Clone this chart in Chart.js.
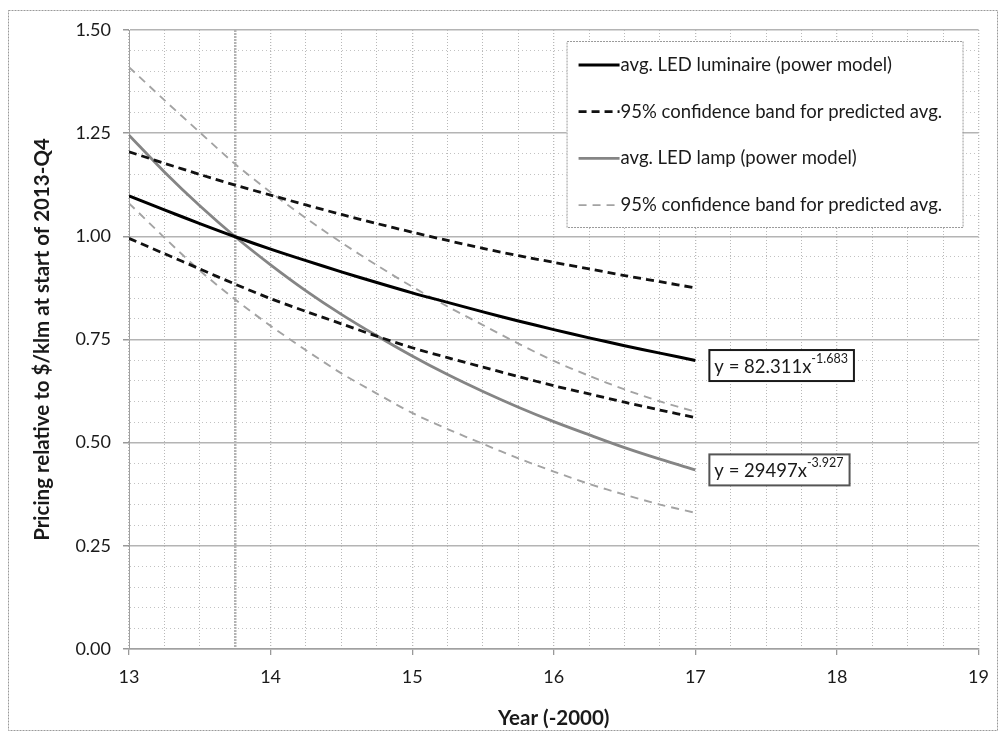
<!DOCTYPE html>
<html lang="en">
<head>
    <meta charset="UTF-8">
    <title>LED pricing relative to 2013-Q4</title>
    <script src="https://cdn.jsdelivr.net/npm/chart.js"></script>
    <style>
        body {
            margin: 0;
            background: #fff;
        }
        canvas {
            display: block;
        }
    </style>
</head>
<body>
    <canvas id="priceChart" width="1000" height="733"></canvas>
    <script>
        // values, every quarter year
        const years = [13, 13.25, 13.5, 13.75, 14, 14.25, 14.5, 14.75, 15, 15.25, 15.5, 15.75, 16, 16.25, 16.5, 16.75, 17];
        const luminaireAvg   = [1.098, 1.064, 1.031, 0.999, 0.969, 0.941, 0.914, 0.888, 0.863, 0.840, 0.817, 0.795, 0.774, 0.754, 0.735, 0.717, 0.699];
        const luminaireUpper = [1.205, 1.177, 1.150, 1.124, 1.100, 1.076, 1.053, 1.031, 1.010, 0.990, 0.971, 0.953, 0.937, 0.921, 0.905, 0.890, 0.875];
        const luminaireLower = [0.995, 0.958, 0.921, 0.884, 0.849, 0.818, 0.788, 0.758, 0.730, 0.706, 0.683, 0.660, 0.638, 0.618, 0.598, 0.579, 0.561];
        const lampAvg   = [1.245, 1.156, 1.074, 0.999, 0.931, 0.868, 0.811, 0.759, 0.710, 0.665, 0.624, 0.586, 0.551, 0.519, 0.488, 0.460, 0.434];
        const lampUpper = [1.410, 1.330, 1.252, 1.175, 1.107, 1.044, 0.985, 0.930, 0.878, 0.830, 0.785, 0.740, 0.698, 0.662, 0.629, 0.600, 0.575];
        const lampLower = [1.080, 0.997, 0.917, 0.847, 0.783, 0.724, 0.668, 0.619, 0.572, 0.533, 0.497, 0.462, 0.430, 0.400, 0.374, 0.350, 0.330];

        const legendLabels = [
            'avg. LED luminaire (power model)',
            '95% confidence band for predicted avg.',
            'avg. LED lamp (power model)',
            '95% confidence band for predicted avg.'
        ];
        const equations = [
            { base: 'y = 82.311x', exp: '-1.683' },
            { base: 'y = 29497x', exp: '-3.927' }
        ];

        const FONT = 'Lato, "Open Sans", sans-serif';

        function points(values) {
            return values.map((v, i) => ({ x: years[i], y: v }));
        }

        function isMajorY(v) {
            return Math.abs(v * 4 - Math.round(v * 4)) < 1e-6;
        }

        const lineStyles = [
            { color: '#000000', width: 3, dash: [] },
            { color: '#111111', width: 2.8, dash: [8, 5] },
            { color: '#858585', width: 2.8, dash: [] },
            { color: '#a3a3a3', width: 1.9, dash: [8, 6] }
        ];

        const datasets = [
            { data: points(luminaireAvg), style: 0 },
            { data: points(luminaireUpper), style: 1 },
            { data: points(luminaireLower), style: 1 },
            { data: points(lampAvg), style: 2 },
            { data: points(lampUpper), style: 3 },
            { data: points(lampLower), style: 3 }
        ].map(d => ({
            data: d.data,
            borderColor: lineStyles[d.style].color,
            borderWidth: lineStyles[d.style].width,
            borderDash: lineStyles[d.style].dash,
            pointRadius: 0,
            tension: 0.3,
            fill: false
        }));

        // legend box, equation boxes and outer frame
        const overlay = {
            id: 'overlay',
            beforeDraw(chart) {
                const ctx = chart.ctx;
                ctx.save();
                ctx.fillStyle = '#ffffff';
                ctx.fillRect(0, 0, chart.width, chart.height);
                ctx.strokeStyle = '#9a9a9a';
                ctx.lineWidth = 1;
                ctx.setLineDash([2, 1]);
                ctx.strokeRect(8.5, 10.5, 989, 720);
                ctx.restore();
            },
            afterDraw(chart) {
                const { ctx, chartArea, scales } = chart;
                ctx.save();

                // legend
                const boxRight = chartArea.right - 16;
                const boxTop = chartArea.top + 11;
                const boxW = 396, boxH = 186;
                const boxLeft = boxRight - boxW;
                ctx.fillStyle = '#ffffff';
                ctx.fillRect(boxLeft, boxTop, boxW, boxH);
                ctx.strokeStyle = '#999999';
                ctx.lineWidth = 1;
                ctx.setLineDash([2, 1]);
                ctx.strokeRect(boxLeft + 0.5, boxTop + 0.5, boxW, boxH);

                ctx.font = '18.5px ' + FONT;
                ctx.textBaseline = 'middle';
                ctx.textAlign = 'left';
                legendLabels.forEach((label, i) => {
                    const st = lineStyles[i];
                    const rowY = boxTop + 24 + i * 46.7;
                    ctx.beginPath();
                    ctx.strokeStyle = st.color;
                    ctx.lineWidth = st.width;
                    ctx.setLineDash(st.dash);
                    ctx.moveTo(boxLeft + 12, rowY);
                    ctx.lineTo(boxLeft + 53, rowY);
                    ctx.stroke();
                    ctx.fillStyle = '#1a1a1a';
                    ctx.fillText(label, boxLeft + 54, rowY);
                });

                // equation labels next to the end of each fitted curve
                const ends = [
                    { value: luminaireAvg[luminaireAvg.length - 1], dy: 5, border: '#1a1a1a' },
                    { value: lampAvg[lampAvg.length - 1], dy: 0, border: '#555555' }
                ];
                ends.forEach((e, i) => {
                    const eq = equations[i];
                    const left = scales.x.getPixelForValue(years[years.length - 1]) + 14;
                    const cy = scales.y.getPixelForValue(e.value) + e.dy;
                    ctx.font = '18.5px ' + FONT;
                    const baseW = ctx.measureText(eq.base).width;
                    ctx.font = '12.5px ' + FONT;
                    const expW = ctx.measureText(eq.exp).width;
                    const w = baseW + expW + 11;
                    const h = 31;
                    ctx.setLineDash([]);
                    ctx.fillStyle = '#ffffff';
                    ctx.fillRect(left, cy - h / 2, w, h);
                    ctx.strokeStyle = e.border;
                    ctx.lineWidth = 2;
                    ctx.strokeRect(left, cy - h / 2, w, h);
                    ctx.fillStyle = '#1a1a1a';
                    ctx.textBaseline = 'alphabetic';
                    ctx.font = '18.5px ' + FONT;
                    ctx.fillText(eq.base, left + 5, cy + 7);
                    ctx.font = '12.5px ' + FONT;
                    ctx.fillText(eq.exp, left + 5 + baseW, cy - 3);
                });
                ctx.restore();
            }
        };

        new Chart(document.getElementById('priceChart'), {
            type: 'line',
            data: { datasets: datasets },
            plugins: [overlay],
            options: {
                responsive: false,
                animation: false,
                layout: { padding: { left: 0, top: 30, right: 15, bottom: 0 } },
                plugins: {
                    legend: { display: false },
                    tooltip: { enabled: false }
                },
                scales: {
                    x: {
                        type: 'linear',
                        min: 13,
                        max: 19,
                        afterFit: scale => { scale.height = 84; },
                        ticks: {
                            stepSize: 0.25,
                            autoSkip: false,
                            maxRotation: 0,
                            padding: 11,
                            color: '#1a1a1a',
                            font: { family: FONT, size: 18 },
                            callback: v => Number.isInteger(v) ? String(v) : ''
                        },
                        grid: {
                            color: ctx => ctx.tick && ctx.tick.value === 13.75 ? '#b3b3b3' : '#b8b8b8',
                            lineWidth: ctx => {
                                if (!ctx.tick) return 1;
                                if (ctx.tick.value === 13.75) return 2.5;
                                return Number.isInteger(ctx.tick.value) ? 1.3 : 1;
                            },
                            tickLength: 6,
                            tickColor: ctx => ctx.tick && Number.isInteger(ctx.tick.value) ? '#999999' : 'rgba(0,0,0,0)'
                        },
                        border: {
                            color: '#a0a0a0',
                            width: 1.5,
                            dash: ctx => {
                                if (!ctx.tick) return [];
                                return ctx.tick.value === 13.75 ? [2, 1] : [1, 2];
                            }
                        },
                        title: {
                            display: true,
                            text: 'Year (-2000)',
                            color: '#1a1a1a',
                            font: { family: FONT, size: 20.5, weight: 'bold' },
                            padding: { top: 0, bottom: 2 }
                        }
                    },
                    y: {
                        min: 0,
                        max: 1.5,
                        afterFit: scale => { scale.width = 129; },
                        ticks: {
                            stepSize: 0.05,
                            autoSkip: false,
                            padding: 12,
                            color: '#1a1a1a',
                            font: { family: FONT, size: 18 },
                            callback: v => isMajorY(v) ? v.toFixed(2) : ''
                        },
                        grid: {
                            color: ctx => ctx.tick && isMajorY(ctx.tick.value) ? '#b4b4b4' : '#c2c2c2',
                            lineWidth: ctx => ctx.tick && isMajorY(ctx.tick.value) ? 1.5 : 1,
                            tickLength: 6,
                            tickColor: ctx => ctx.tick && isMajorY(ctx.tick.value) ? '#999999' : 'rgba(0,0,0,0)'
                        },
                        border: {
                            color: '#a0a0a0',
                            width: 1,
                            dash: ctx => {
                                if (!ctx.tick) return [1, 1];
                                return isMajorY(ctx.tick.value) ? [] : [1, 3];
                            }
                        },
                        title: {
                            display: true,
                            text: 'Pricing relative to $/klm at start of 2013-Q4',
                            color: '#1a1a1a',
                            font: { family: FONT, size: 20.5, weight: 'bold' },
                            padding: { top: 30, bottom: 0 }
                        }
                    }
                }
            }
        });
    </script>
</body>
</html>
